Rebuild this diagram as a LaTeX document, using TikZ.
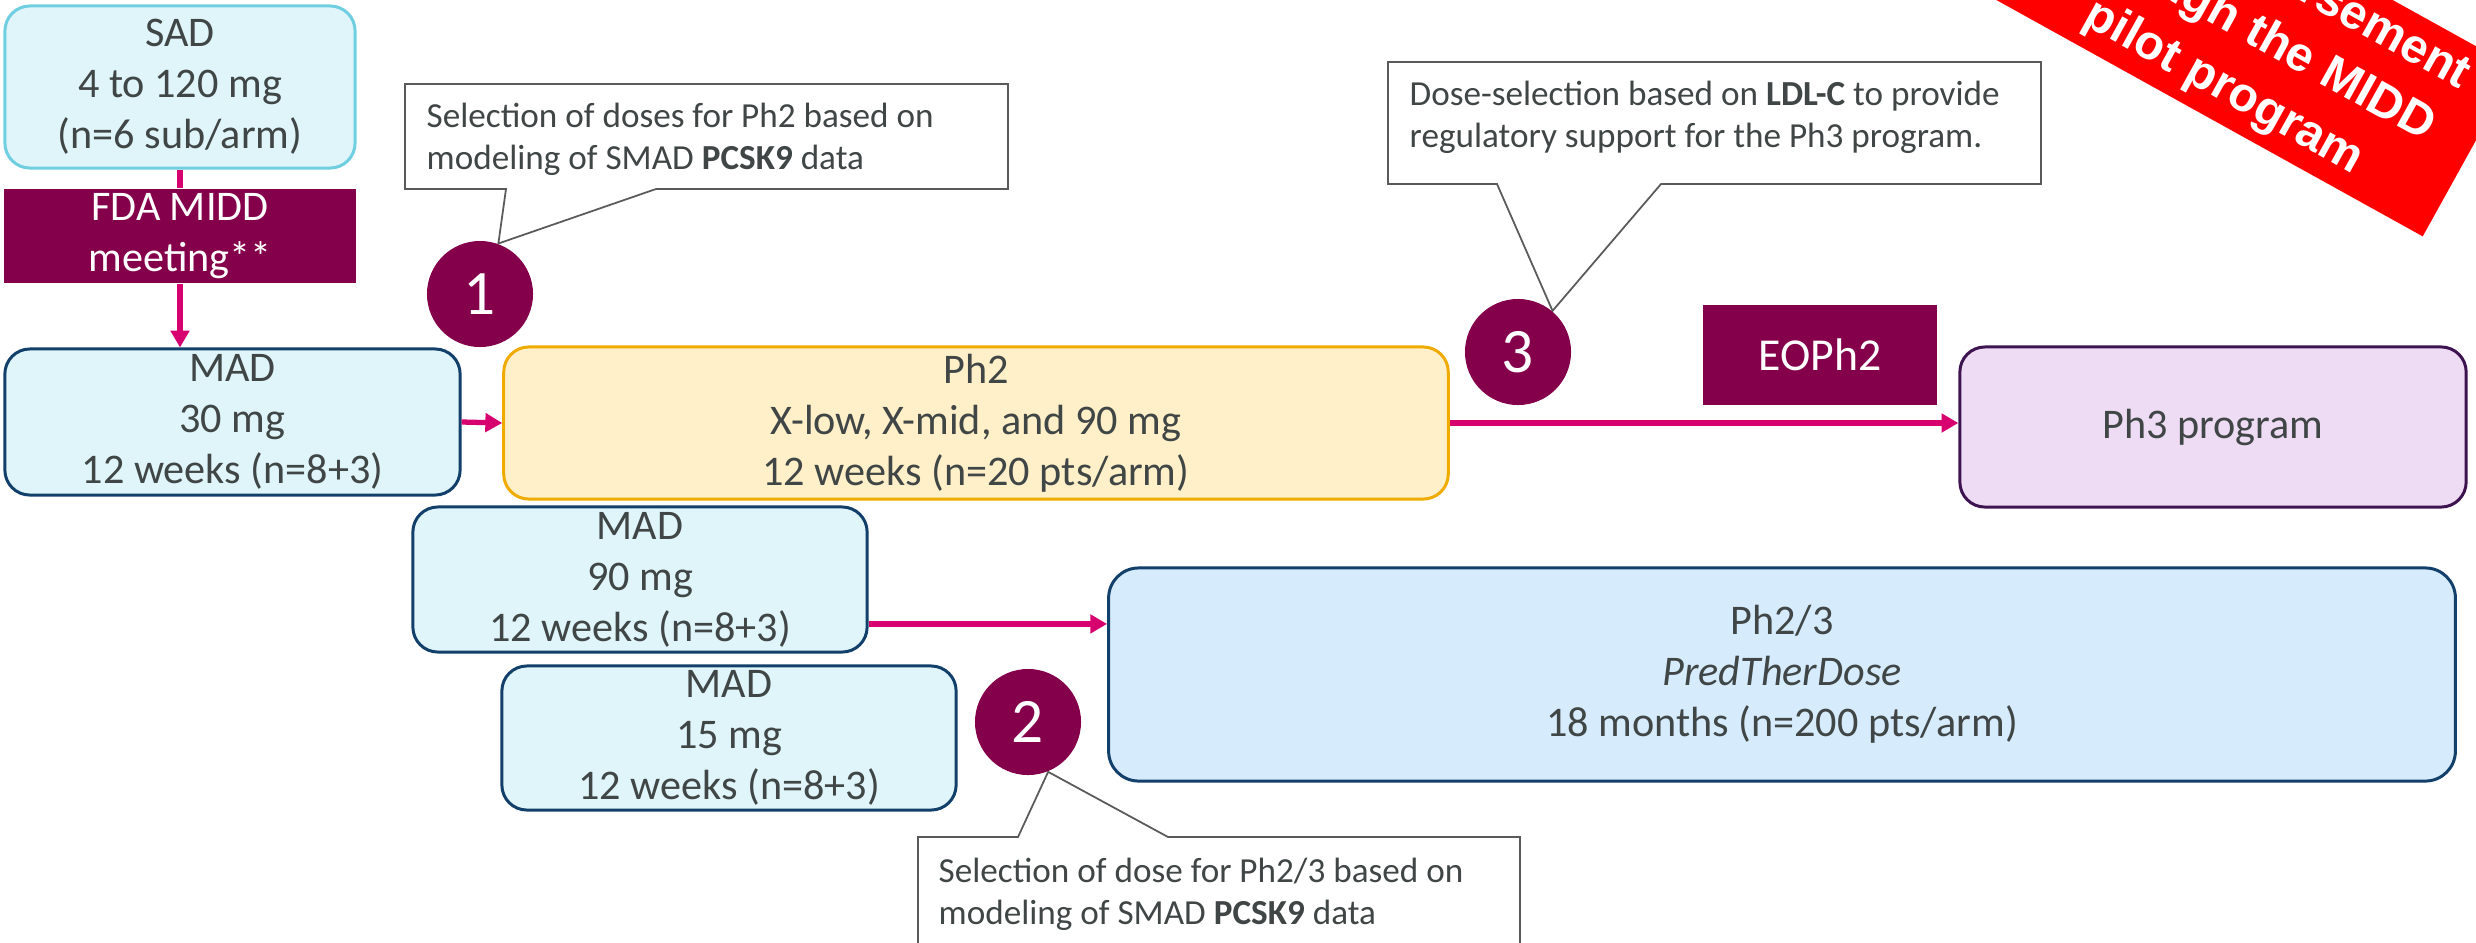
\documentclass[tikz,border=0pt]{standalone}
\usepackage{fontspec}
\setmainfont{Carlito}
\newfontfamily\bannerfont{Liberation Sans}
\usetikzlibrary{arrows.meta,calc,backgrounds}
\definecolor{txt}{HTML}{404545}
\definecolor{maroon}{HTML}{85004B}
\definecolor{pinkarr}{HTML}{D6006F}
\definecolor{sadborder}{HTML}{6FCEE0}
\definecolor{cyanfill}{HTML}{DFF5F9}
\definecolor{navy}{HTML}{12406B}
\definecolor{ph2fill}{HTML}{FFF0C9}
\definecolor{ph2border}{HTML}{F0AB00}
\definecolor{ph3fill}{HTML}{EEDCF5}
\definecolor{ph3border}{HTML}{3E1450}
\definecolor{ph23fill}{HTML}{D6EBFC}
\definecolor{callborder}{HTML}{5A5A5A}
\definecolor{bannerred}{HTML}{FF0000}
\begin{document}
\begin{tikzpicture}[x=0.01cm,y=-0.01cm,
  box/.style={rounded corners=0.25cm, line width=0.85pt, inner sep=0pt, align=center, text=txt,
    font=\fontsize{12}{14.5}\selectfont},
  maroonbox/.style={fill=maroon, text=white, inner sep=0pt, align=center,
    font=\fontsize{12}{14.5}\selectfont},
  num/.style={circle, fill=maroon, text=white, minimum size=1.06cm, inner sep=0pt,
    font=\fontsize{18}{20}\selectfont},
  arr/.style={draw=pinkarr, line width=1.5pt, -{Triangle[length=4.8pt,width=5.2pt]}},
  calltext/.style={inner sep=0pt, align=left, text=txt, font=\fontsize{10}{12}\selectfont, anchor=west},
  callout/.style={draw=callborder, fill=white, line width=0.5pt, line join=miter}
]
\useasboundingbox (0,0) rectangle (2476,942);

% boxes
\node[box, draw=sadborder, fill=cyanfill, minimum width=3.5cm, minimum height=1.62cm] (sad) at (180,87) {SAD\\4 to 120 mg\\(n=6 sub/arm)};
\node[maroonbox, minimum width=3.52cm, minimum height=0.94cm] (fda) at (180,236) {FDA MIDD\\meeting**};
\node[box, draw=navy, fill=cyanfill, minimum width=4.55cm, minimum height=1.46cm] (mad30) at (232.5,422) {MAD\\30 mg\\12 weeks (n=8+3)};
\node[box, draw=ph2border, fill=ph2fill, minimum width=9.44cm, minimum height=1.52cm] (ph2) at (976,423) {Ph2\\X-low, X-mid, and 90 mg\\12 weeks (n=20 pts/arm)};
\node[maroonbox, minimum width=2.34cm, minimum height=1cm, font=\fontsize{13}{15}\selectfont] (eoph2) at (1820,355) {EOPh2};
\node[box, draw=ph3border, fill=ph3fill, minimum width=5.06cm, minimum height=1.6cm] (ph3) at (2213,427) {Ph3 program};
\node[box, draw=navy, fill=cyanfill, minimum width=4.54cm, minimum height=1.45cm] (mad90) at (640,579.5) {MAD\\90 mg\\12 weeks (n=8+3)};
\node[box, draw=navy, fill=cyanfill, minimum width=4.54cm, minimum height=1.44cm] (mad15) at (729,738) {MAD\\15 mg\\12 weeks (n=8+3)};
\node[box, rounded corners=0.3cm, draw=navy, fill=ph23fill, minimum width=13.46cm, minimum height=2.13cm] (ph23) at (1782,674.5) {Ph2/3\\\textit{PredTherDose}\\18 months (n=200 pts/arm)};

% numbered circles
\node[num] (c1) at (480,294) {1};
\node[num] (c3) at (1518,352) {3};
\node[num] (c2) at (1028,722) {2};

% connectors
\draw[draw=pinkarr, line width=1.5pt] (sad.south) -- (fda.north);
\draw[arr] (fda.south) -- (fda.south |- mad30.north);
\draw[arr] (mad30.east) -- (ph2.west);
\draw[arr] (ph2.east) -- (ph2.east -| ph3.west);
\coordinate (m90out) at ($(mad90.south east)!0.2!(mad90.north east)$);
\draw[arr] (m90out) -- (m90out -| ph23.west);

% callout texts
\node[calltext] (call1) at (426,139.5) {Selection of doses for Ph2 based on\\modeling of SMAD \textbf{PCSK9} data};
\node[calltext] (call3) at (1409,117) {Dose-selection based on \textbf{LDL-C} to provide\\regulatory support for the Ph3 program.};
\node[calltext] (call2) at (938,894) {Selection of dose for Ph2/3 based on\\modeling of SMAD \textbf{PCSK9} data};

% red banner
\node[fill=bannerred, rotate=-29, minimum width=4.92cm, minimum height=1.92cm, inner sep=0pt,
  text=white, align=center, font=\bannerfont\fontsize{13.7}{17.9}\selectfont\bfseries] (banner) at (2254,33)
  {FDA endorsement\\through the MIDD\\pilot program};

\begin{scope}[on background layer]
\fill[white] (0,0) rectangle (2476,942);
\draw[callout] (405,84) -- (1008,84) -- (1008,189) -- (656,189) -- (c1.70) -- (506,189) -- (405,189) -- cycle;
\draw[callout] (1388,62) -- (2041,62) -- (2041,184) -- (1661,184) -- (c3.50) -- (1497,184) -- (1388,184) -- cycle;
\draw[callout] (918,837) -- (1018,837) -- (c2.-68) -- (1168,837) -- (1520,837) -- (1520,960) -- (918,960) -- cycle;
\end{scope}
\end{tikzpicture}
\end{document}
